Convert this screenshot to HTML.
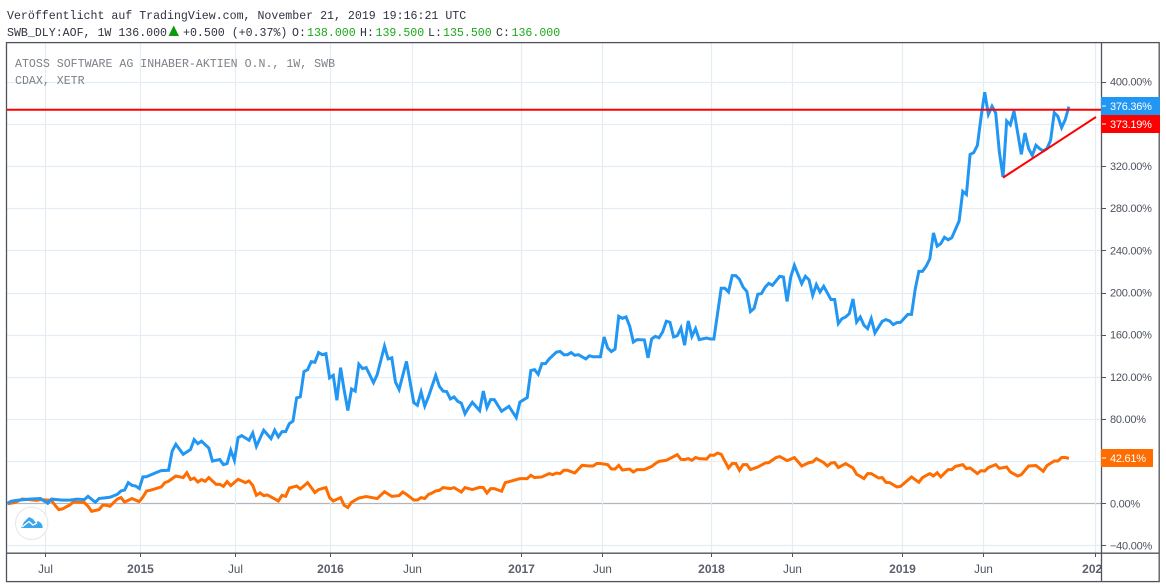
<!DOCTYPE html>
<html lang="de">
<head>
<meta charset="utf-8">
<title>ATOSS Software AG vs CDAX</title>
<style>
html,body{margin:0;padding:0;background:#fff;}
svg{display:block;}
.mono{font-family:"Liberation Mono","DejaVu Sans Mono",monospace;font-size:11.6px;}
.axis{font-family:"Liberation Sans",Arial,sans-serif;font-size:11px;fill:#4c525e;letter-spacing:-0.25px;}
</style>
</head>
<body>
<svg id="chart" xmlns="http://www.w3.org/2000/svg" width="1166" height="588" viewBox="0 0 1166 588">
  <defs>
    <clipPath id="time-clip"><rect x="7" y="553" width="1094" height="28"></rect></clipPath>
    <clipPath id="plot-clip"><rect x="7" y="43" width="1094" height="510"></rect></clipPath>
  </defs>
  <rect x="0" y="0" width="1166" height="588" fill="#ffffff"></rect>

  <text class="mono" x="7" y="19" fill="#2f3241">Veröffentlicht auf TradingView.com, November 21, 2019 19:16:21 UTC</text>
  <g class="mono">
    <text x="7" y="36" fill="#2f3241">SWB_DLY:AOF, 1W 136.000</text>
    <polygon points="168.5,36 179,36 173.7,25.5" fill="#0a9a0a"></polygon>
    <text x="183" y="36" fill="#2f3241">+0.500 (+0.37%)</text>
    <text x="292" y="36" fill="#2f3241">O:</text>
    <text x="307" y="36" fill="#1ba81b">138.000</text>
    <text x="360" y="36" fill="#2f3241">H:</text>
    <text x="375.5" y="36" fill="#1ba81b">139.500</text>
    <text x="428" y="36" fill="#2f3241">L:</text>
    <text x="443" y="36" fill="#1ba81b">135.500</text>
    <text x="496" y="36" fill="#2f3241">C:</text>
    <text x="511.5" y="36" fill="#1ba81b">136.000</text>
  </g>

  <g id="grid"></g>

  <text class="mono" x="15" y="67" fill="#7d8088">ATOSS SOFTWARE AG INHABER-AKTIEN O.N., 1W, SWB</text>
  <text class="mono" x="15" y="84" fill="#7d8088">CDAX, XETR</text>

  <g>
    <circle cx="31.7" cy="523.3" r="16.2" fill="#ffffff" stroke="#e6e6e6" stroke-width="1"></circle>
    <path d="M21 528 L24 522 L29 517 L33 519 L36 523 L38 521 L41 523 Q43 526 42.5 528 Z" fill="#3aa6ee"></path>
    <path d="M22 527 L29 521.5 L33 525 L37 523" fill="none" stroke="#ffffff" stroke-width="1.4"></path>
  </g>

  <g clip-path="url(#plot-clip)">
    <g id="series"></g>
  </g>
  <g id="drawings"></g>

  <g fill="none" stroke="#50535e" stroke-width="1.3">
    <rect x="6.5" y="42.6" width="1152.7" height="539"></rect>
    <line x1="6.5" y1="553.2" x2="1159" y2="553.2"></line>
    <line x1="1101.5" y1="42.6" x2="1101.5" y2="581.6"></line>
  </g>
  <g id="x-axis"></g>
  <g id="y-axis"></g>
  <g id="badges"></g>
</svg>

<script>
var priceTicks = [400, 360, 320, 280, 240, 200, 160, 120, 80, 40, 0, -40];
var timeLabels = ["Jul", "2015", "Jul", "2016", "Jun", "2017", "Jun", "2018", "Jun", "2019", "Jun", "2020"];
var timeTickWeeks = [10.2, 36.2, 62.2, 88.2, 110.4, 140.2, 162.3, 192.2, 214.3, 244.4, 266.5, 297.1];

var blueWeeks = [
0,1,3,6,9,11,12,15,17,19,
21,22,24,25,28,30,31,32,33,34,
35,36,37,38,41,42,44,45,46,48,
50,51,52,53,55,56,58,59,60,61,
62,63,64,66,67,68,70,72,73,74,
75,76,77,78,79,80,81,82,83,84,
85,86,87,88,89,90,91,92,93,94,
95,96,97,98,100,101,103,104,105,106,
107,109,111,112,113,114,115,117,118,119,
120,121,122,123,124,125,126,127,129,130,
131,132,133,135,137,139,140,142,143,144,
145,146,147,148,150,151,152,153,154,155,
156,158,159,160,162,163,164,165,166,167,
168,169,170,171,172,174,175,176,177,178,
179,180,181,182,183,184,185,186,187,188,
189,191,192,193,195,196,197,198,199,200,
201,202,203,204,205,206,207,208,209,211,
212,213,214,215,217,218,219,220,221,222,
223,225,226,227,228,229,230,231,232,233,
234,235,236,237,239,240,241,242,243,244,
246,247,248,249,250,251,252,253,254,255,
256,257,258,260,261,262,263,264,265,266,
267,268,269,270,271,272,273,274,275,277,
278,279,280,281,282,283,284,285,286,287,
288,289,290];
var blueValues = [
0,2,3,4,4.5,0,4,3,3,4,
3.5,6.6,1,4.5,5.7,8.5,11.7,12.6,19.6,17,
16.4,14,25,25.3,29.7,31,31.3,49.6,56,46.5,
51,60.4,56.6,59,52.5,40,41.5,36.7,37.7,50.3,
40.8,62.3,64.2,59.8,66.7,54,69.3,61.4,69.3,63,
68,68,75.6,78,100,101,125,126.8,134.4,133.8,
143,141,142,119,121.4,97.7,128.7,107,88,108.5,
106.5,132,127.8,128.7,114.5,122,149,137,138,115,
108,134.7,95.5,93,105.6,92.3,100.9,121.4,111,106.5,
106,99,100.9,96.8,95,85,90.8,95.8,88,106.5,
90.8,98.4,98.4,87.3,92,81.3,96,100.3,126,126.8,
122.4,132.5,132.5,137,143.5,144,141,141,143,140.4,
141,137,140,139,139,157.8,147.3,144,146.4,177.4,
175.5,176.8,168,153,155.3,155,138,156,158.4,157,
162.5,172.7,171.7,157.8,159,166.3,150,173,158.4,165.7,
155.3,156.8,155.9,155.9,204,204,200.5,216,216,212.5,
205,201,182,185,198.3,199,205,208.7,206.8,215.4,
214.7,191.6,214.7,225.8,208.4,215.4,212,197.3,207.5,200.5,
205.9,193.3,193.3,170.5,175.2,176.8,180,193.8,172,176.8,
168.9,165.7,175.2,161.6,172.7,174.3,173,169.5,171.4,171.7,
179.3,179.3,203,220,220,224.9,232,256.5,244,246.4,
252.4,250,252,267.8,296,293,331,332.7,339.7,366.5,
390,369,376.7,370.3,333.3,309.6,362.7,359,372.2,331,
351.3,336.5,330,339.7,336.5,334.3,336.5,344.4,370.7,367,
356.4,364,376.36];

var orangeWeeks = [
0,2,4,6,8,9,12,13,14,15,
17,18,21,22,23,25,26,27,28,30,
31,32,34,36,37,38,39,42,43,44,
46,48,49,50,51,52,53,54,55,57,
58,59,60,61,63,65,66,67,68,69,
70,71,72,74,75,76,77,79,80,82,
84,85,87,88,89,91,92,93,94,96,
98,101,103,105,107,108,109,111,112,113,
114,115,116,117,118,119,121,122,124,125,
127,129,130,131,132,133,135,136,138,140,
142,143,144,146,148,149,150,151,152,153,
155,157,159,160,161,162,164,165,166,167,
168,170,171,172,174,176,177,178,180,183,
184,185,186,187,188,189,191,192,193,194,
195,197,198,199,200,201,202,203,205,207,
208,210,211,213,215,217,219,220,221,223,
224,225,226,227,229,231,232,233,234,235,
236,238,239,240,241,243,244,247,249,250,
252,253,254,255,257,258,259,261,262,263,
265,266,267,268,270,271,273,274,276,277,
279,281,283,284,286,287,288,289,290];
var orangeValues = [
-0.5,0.7,4,3.5,2.8,3.5,2.8,-1.9,-6,-5.4,
-1.6,1.2,0.7,-2.8,-7.6,-6,-1.9,-1.9,-2.8,4,
5.4,1.2,4.5,1.6,6,11.7,12.3,15.5,19.6,20.9,
25.9,24.4,29,22.5,24,20.2,22.5,20.9,24.4,18,
18,16.1,20.6,16.8,22.8,19.6,21.2,17,7.6,9.8,
7.3,7.9,6,2.2,7.6,6.6,14.5,16.4,13.6,19.6,
10.2,13,14.9,5.4,2.2,5.4,-1.9,-4,1,5,
6.4,4.5,11,6.6,7.3,10.7,8.5,3.1,3.1,5.4,
4.5,8.3,9.8,11.7,12.3,14.9,13.9,14.9,10.7,14.9,
13,15.2,14.9,9.8,13.9,13.9,11.4,19.6,21.5,23.4,
23.4,26.6,24.4,25,28.2,27.2,28.7,28.2,31.3,31.3,
28.7,36,35.4,35.4,37.7,37.7,36.7,32.5,32.5,36,
31.6,32.5,29.7,32,32,35,37.7,39.8,40.8,46.2,
41.7,41.5,42.4,40.8,43.4,42.4,42,45.8,45.5,47.7,
46.5,33.5,37.7,37.7,31.3,36.7,36.7,32,34.4,38.2,
38.6,43.4,44.3,40.5,43.4,35.4,38.6,39.2,42.4,38.6,
35.4,38.2,38.6,33.9,37.7,33.5,27.5,25.6,23.4,28.2,
28.2,24,24.4,19.9,19.6,15.5,16.1,25,19.9,24.4,
28.2,25.9,29,25,32,32,35,36.7,32.9,33.5,
28.2,31,30.6,33.9,36.7,33.2,34.4,29.7,25.9,27.2,
35.4,35.8,30.4,35.8,40.1,40.1,43.4,43.4,42.61];

var trendWeeks = [272, 297.4];
var trendValues = [309, 366.5];
var resistanceValue = [373.4];
var blueLastLabel = ["376.36%"];
var redLabel = ["373.19%"];
var orangeLastLabel = ["42.61%"];

var NS = "http://www.w3.org/2000/svg";
function xAt(week) { return 7.5 + week * 3.66; }
function yAt(value) { return 503.3 - value * 1.054; }
function make(tag, attrs, parent) {
  var el = document.createElementNS(NS, tag);
  for (var k in attrs) { el.setAttribute(k, attrs[k]); }
  parent.appendChild(el);
  return el;
}

var grid = document.getElementById("grid");
var xAxis = document.getElementById("x-axis");
var yAxis = document.getElementById("y-axis");
var seriesLayer = document.getElementById("series");
var drawings = document.getElementById("drawings");
var badges = document.getElementById("badges");

priceTicks.forEach(function (v) {
  var py = Math.round(yAt(v)) + 0.5;
  var isZero = v === 0;
  var line = make("line", { x1: 7, x2: 1101, y1: py, y2: py, stroke: isZero ? "#b2b5be" : "#e4edf4", "stroke-width": isZero ? 1.2 : 1.2 }, grid);
  
  
  var tick = make("line", { x1: 1102, x2: 1106, y1: py, y2: py, stroke: "#50535e", "stroke-width": 1 }, yAxis);
  
  
  var minus = v < 0 ? "\u2212" : "";
  var label = make("text", { x: v < 0 ? 1110 : 1110, y: yAt(v) + 4, "class": "axis" }, yAxis);
  
  
  label.textContent = minus + Math.abs(v).toFixed(2) + "%";
});

timeLabels.forEach(function (name, i) {
  var px = Math.round(xAt(timeTickWeeks[i])) + 0.5;
  var line = make("line", { x1: px, x2: px, y1: 43, y2: 553, stroke: "#e4edf4", "stroke-width": 1.2 }, grid);
  
  
  var tick = make("line", { x1: px, x2: px, y1: 553, y2: 557, stroke: "#50535e", "stroke-width": 1 }, xAxis);
  
  
  var isYear = /^\d/.test(name);
  var label = make("text", {
    x: px, y: 573, "text-anchor": "middle", "clip-path": "url(#time-clip)",
    "font-family": '"Liberation Sans", Arial, sans-serif', "font-size": isYear ? 12 : 11.6,
    "font-weight": isYear ? "bold" : "normal", fill: isYear ? "#5d606b" : "#4c525e"
  }, xAxis);
  
  
  label.textContent = name;
});

function pathFrom(weeks, values) {
  var d = "";
  for (var i = 0; i < weeks.length; i++) {
    d += (i ? " L" : "M") + xAt(weeks[i]).toFixed(2) + " " + yAt(values[i]).toFixed(2);
  }
  return d;
}

var orangeLine = make("path", { d: pathFrom(orangeWeeks, orangeValues), fill: "none", stroke: "#ff6d00", "stroke-width": 3, "stroke-linejoin": "miter", "stroke-miterlimit": 4 }, seriesLayer);



var blueLine = make("path", { d: pathFrom(blueWeeks, blueValues), fill: "none", stroke: "#2196f3", "stroke-width": 3, "stroke-linejoin": "miter", "stroke-miterlimit": 4 }, seriesLayer);



var hLine = make("line", { x1: 6.5, x2: 1101, y1: yAt(resistanceValue[0]), y2: yAt(resistanceValue[0]), stroke: "#ff0000", "stroke-width": 2 }, drawings);



var trend = make("line", { x1: xAt(trendWeeks[0]), y1: yAt(trendValues[0]), x2: xAt(trendWeeks[1]), y2: yAt(trendValues[1]), stroke: "#ff0000", "stroke-width": 2 }, drawings);



function badge(name, text, value, top, height, width, color) {
  var g = make("g", {}, badges);
  
  
  var r = make("rect", { x: 1101, y: top, width: width, height: height, fill: color }, g);
  
  
  var cy = top + height / 2;
  var t = make("line", { x1: 1102, x2: 1106, y1: cy, y2: cy, stroke: "#ffffff", "stroke-width": 1 }, g);
  
  
  var l = make("text", { x: 1110, y: cy + 4, "class": "axis", style: "fill:#ffffff" }, g);
  
  
  l.textContent = text;
}
badge("atoss-last-price-badge", blueLastLabel[0], 376.36, 97, 18, 59, "#2196f3");
badge("drawing-price-badge", redLabel[0], 373.19, 115, 18, 59, "#ff0000");
badge("cdax-last-price-badge", orangeLastLabel[0], 42.61, 449, 18, 52, "#ff6d00");
</script>
</body>
</html>
